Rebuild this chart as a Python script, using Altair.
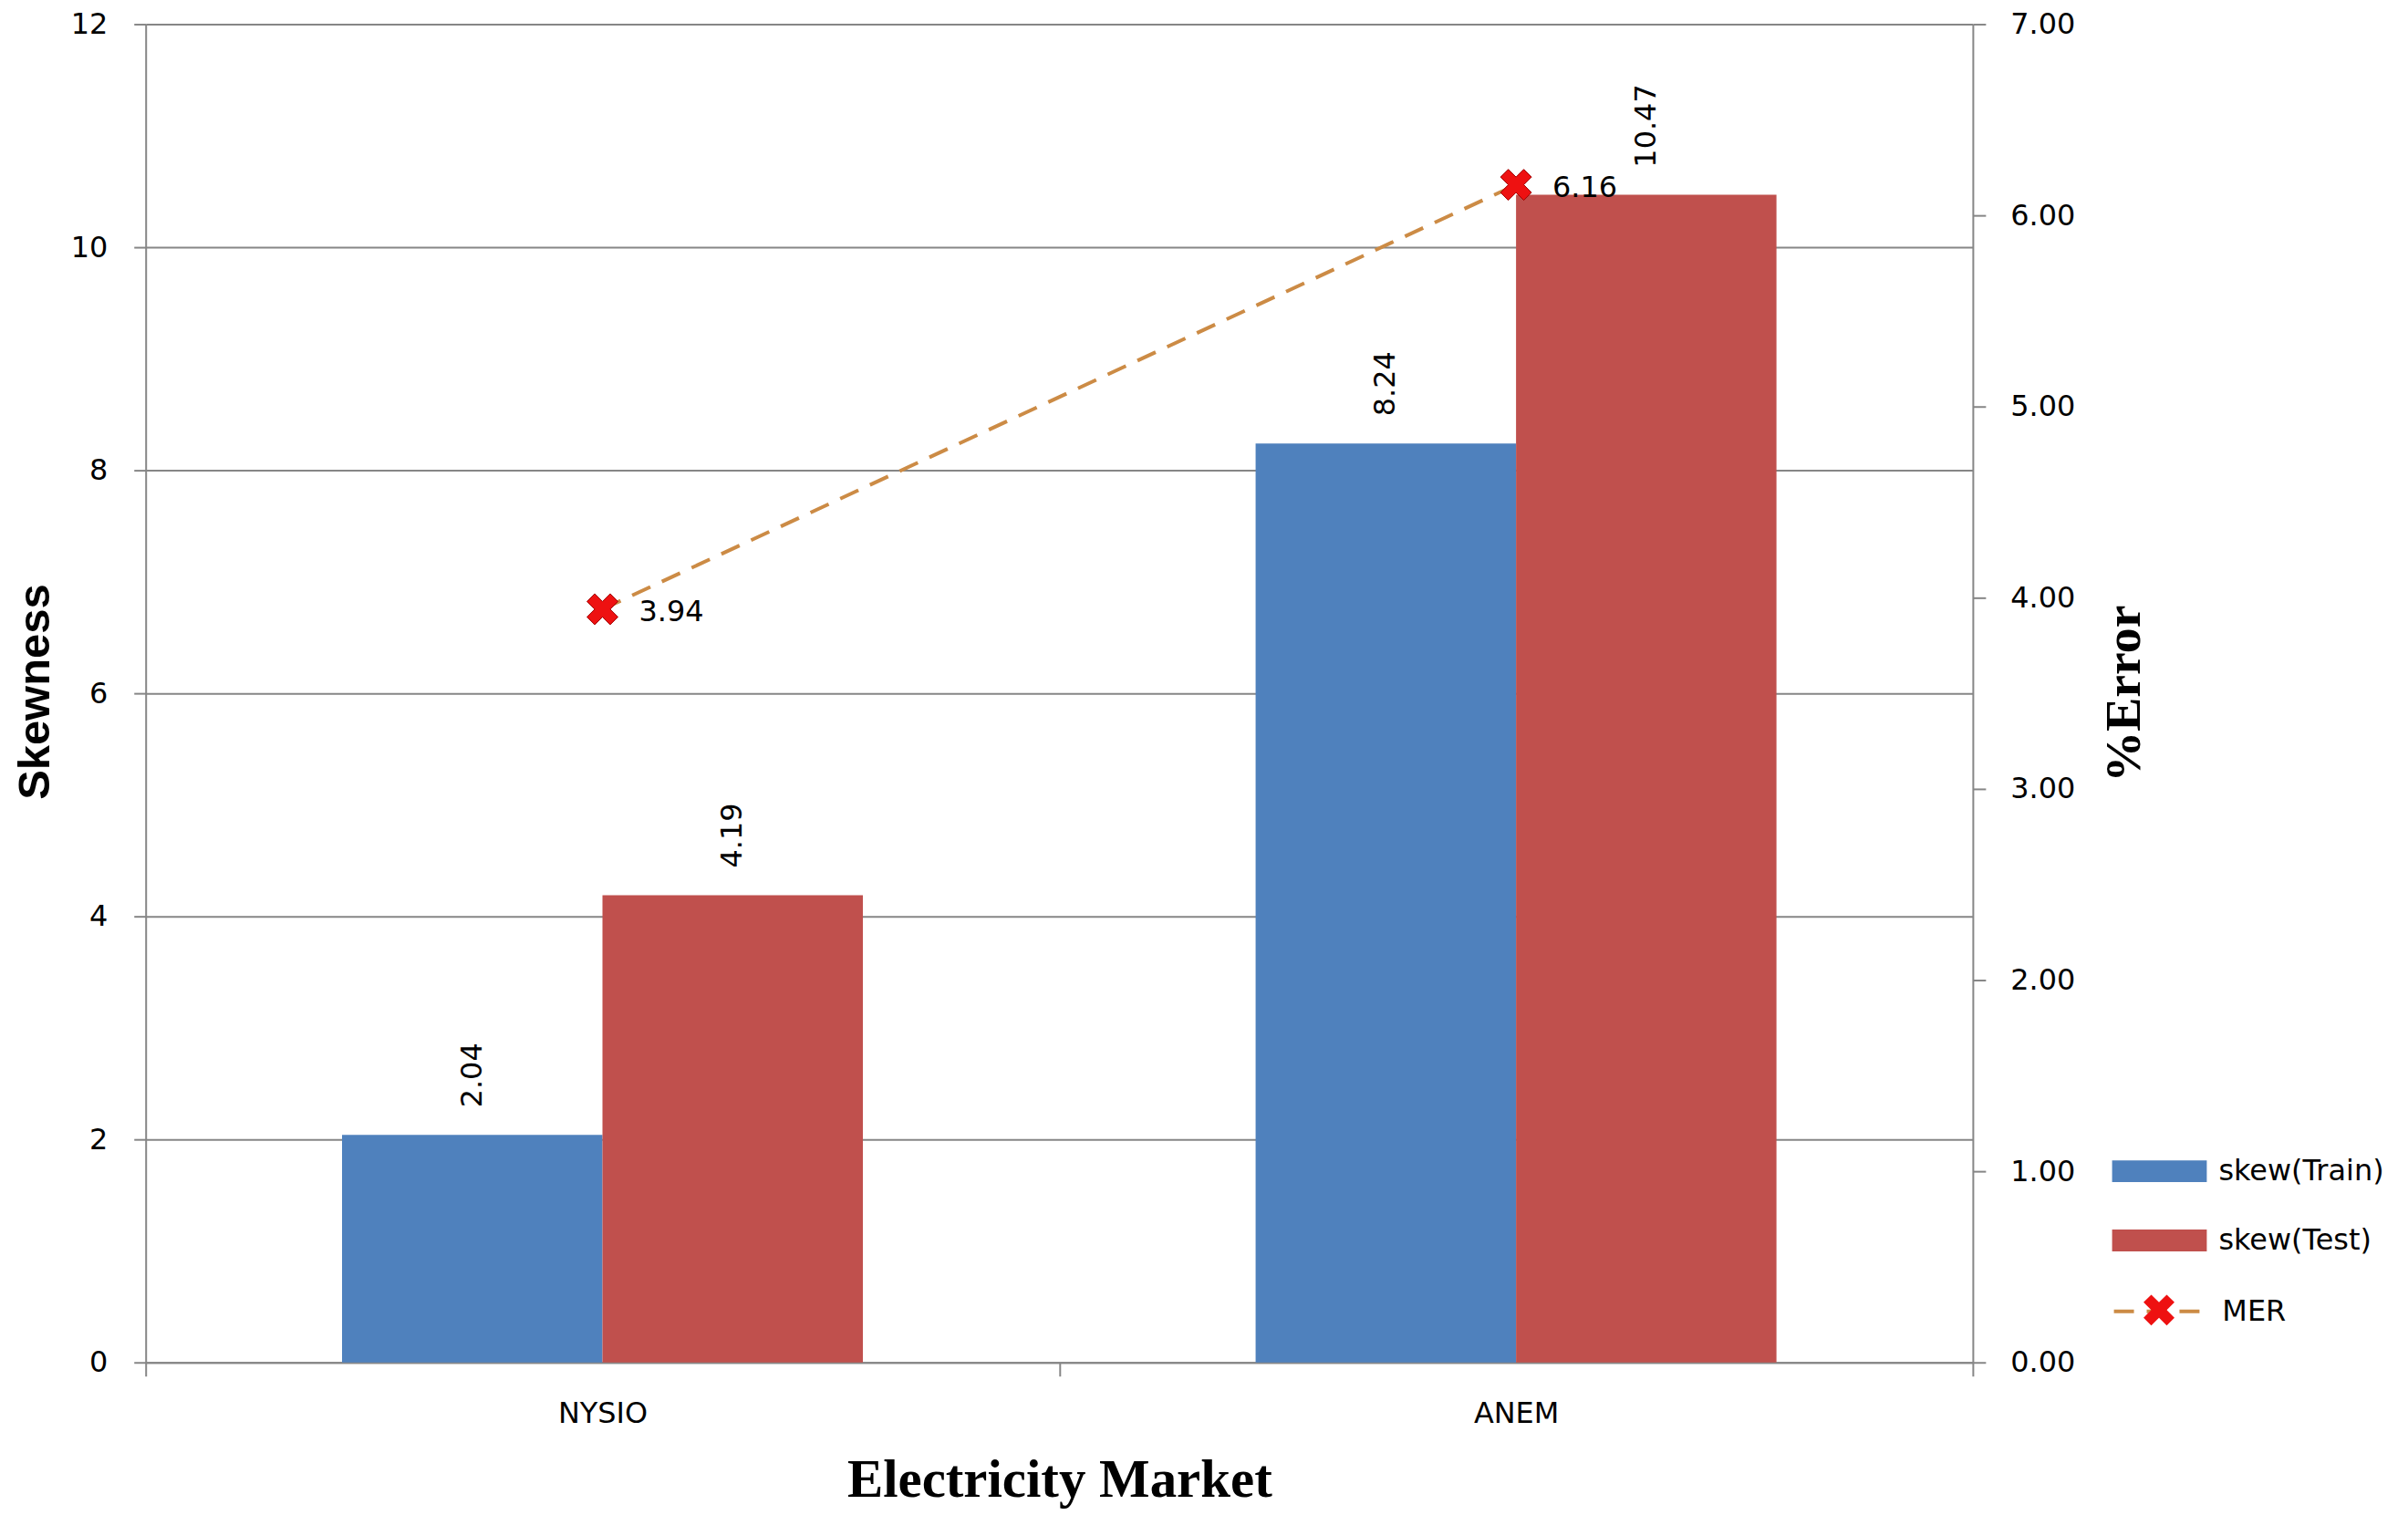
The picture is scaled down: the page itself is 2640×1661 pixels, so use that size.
import altair as alt
import pandas as pd

# ---- data ----
markets = ["NYSIO", "ANEM"]
series_names = ["skew(Train)", "skew(Test)"]
skew_train = [2.04, 8.24]
skew_test = [4.19, 10.47]
mer_values = [3.94, 6.16]
mer_name = "MER"
marker_key_name = "MER marker"
left_ticks = [0, 2, 4, 6, 8, 10, 12]
right_ticks = [0, 1, 2, 3, 4, 5, 6, 7]
bar_colors = ["#4F81BD", "#C0504D"]
line_color = "#CC8B45"
marker_fill = "#EE1111"
marker_stroke = "#A00000"

W, H = 2007, 1470
GRAY = "#868686"
SANS = "DejaVu Sans"
SERIF = "Liberation Serif"

X_PATH = "M-1,-0.5L-0.5,-1L0,-0.5L0.5,-1L1,-0.5L0.5,0L1,0.5L0.5,1L0,0.5L-0.5,1L-1,0.5L-0.5,0Z"
RECT_PATH = "M-1,-0.23L1,-0.23L1,0.23L-1,0.23Z"

bars_df = pd.DataFrame({
    "market": markets * 2,
    "series": [series_names[0]] * len(markets) + [series_names[1]] * len(markets),
    "value": skew_train + skew_test,
})
mer_df = pd.DataFrame({
    "market": markets,
    "mer": mer_values,
    "line_key": [mer_name] * len(markets),
    "marker_key": [marker_key_name] * len(markets),
})

x_enc = alt.X(
    "market:N", sort=markets,
    scale=alt.Scale(paddingInner=0, paddingOuter=0),
    axis=alt.Axis(
        tickBand="extent", labelAngle=0, tickSize=15, labelPadding=26,
        title="Electricity Market", titleFont=SERIF, titleFontWeight="bold",
        titleFontSize=59, titleColor="#000000", titleX=W / 2, titleY=147,
        titleBaseline="alphabetic", titleAlign="center",
    ),
)
xoff_enc = alt.XOffset("series:N", sort=series_names,
                       scale=alt.Scale(paddingInner=0, paddingOuter=0.754))
y_left = alt.Y(
    "value:Q",
    scale=alt.Scale(domain=[0, 12], nice=False),
    axis=alt.Axis(
        values=left_ticks, format="d", grid=True, tickSize=13, labelPadding=29,
        title="Skewness", titleFont="Liberation Sans", titleFontWeight="bold",
        titleFontSize=49, titleColor="#000000", titleAngle=270,
        titleX=-106, titleY=H / 2 - 2, titleBaseline="alphabetic", titleAlign="center",
    ),
)

bars = alt.Chart(bars_df).mark_bar().encode(
    x=x_enc,
    xOffset=xoff_enc,
    y=y_left,
    color=alt.Color(
        "series:N", sort=series_names,
        scale=alt.Scale(domain=series_names, range=bar_colors),
        legend=alt.Legend(
            title=None, orient="none", legendX=2160, legendY=1208,
            symbolType=RECT_PATH, symbolSize=10816, symbolStrokeWidth=0,
            labelFont=SANS, labelFontSize=32, labelColor="#000000",
            labelOffset=13, labelLimit=400, rowPadding=8, padding=0,
        ),
    ),
)

bar_labels = alt.Chart(bars_df).mark_text(
    angle=270, align="left", baseline="middle", dx=30,
    font=SANS, fontSize=32, color="#000000",
).encode(
    x=alt.X("market:N", sort=markets),
    xOffset=alt.XOffset("series:N", sort=series_names),
    y=alt.Y("value:Q"),
    text=alt.Text("value:Q", format=".2f"),
)

left_layer = alt.layer(bars, bar_labels)

y_right = alt.Y(
    "mer:Q",
    scale=alt.Scale(domain=[0, 7], nice=False),
    axis=alt.Axis(
        orient="right", values=right_ticks, format=".2f", grid=False,
        tickSize=14, labelPadding=27,
        title="%Error", titleFont=SERIF, titleFontWeight="bold",
        titleFontSize=56, titleColor="#000000", titleAngle=270,
        titleX=183, titleY=H / 2, titleBaseline="alphabetic", titleAlign="center",
    ),
)

line = alt.Chart(mer_df).mark_line(strokeWidth=4, color=line_color).encode(
    x=alt.X("market:N", sort=markets),
    y=y_right,
    strokeDash=alt.StrokeDash(
        "line_key:N", scale=alt.Scale(domain=[mer_name], range=[[22, 14]]),
        legend=alt.Legend(
            title=None, orient="none", legendX=2160, legendY=1362,
            symbolType="stroke", symbolSize=10000, symbolStrokeColor=line_color,
            symbolStrokeWidth=4, symbolDash=[24, 52],
            labelFont=SANS, labelFontSize=32, labelColor="#000000",
            labelOffset=17, labelLimit=400, padding=0,
        ),
    ),
)

points = alt.Chart(mer_df).mark_point(
    filled=True, size=1156, fill=marker_fill, stroke=marker_stroke,
    strokeWidth=1, opacity=1,
).encode(
    x=alt.X("market:N", sort=markets),
    y=alt.Y("mer:Q"),
    shape=alt.Shape(
        "marker_key:N", scale=alt.Scale(domain=[marker_key_name], range=[X_PATH]),
        legend=alt.Legend(
            title=None, orient="none", legendX=2194, legendY=1395,
            symbolType=X_PATH, symbolSize=1156, symbolFillColor=marker_fill,
            symbolStrokeColor=marker_stroke, symbolStrokeWidth=1,
            labelOpacity=0, labelFontSize=1, padding=0,
        ),
    ),
)

mer_labels = alt.Chart(mer_df).mark_text(
    align="left", baseline="middle", dx=40, dy=3,
    font=SANS, fontSize=32, color="#000000",
).encode(
    x=alt.X("market:N", sort=markets),
    y=alt.Y("mer:Q"),
    text=alt.Text("mer:Q", format=".2f"),
)

right_layer = alt.layer(line, points, mer_labels)

chart = alt.layer(left_layer, right_layer).resolve_scale(
    y="independent"
).properties(
    width=W, height=H,
    autosize=alt.AutoSizeParams(type="none"),
    padding={"left": 152, "top": 17, "right": 470, "bottom": 160},
    background="#FFFFFF",
).configure_view(
    stroke=None,
).configure_axis(
    gridColor=GRAY, gridWidth=2, domainColor=GRAY, domainWidth=2,
    tickColor=GRAY, tickWidth=2, labelFont=SANS, labelFontSize=32,
    labelColor="#000000",
)

chart.save("out.html", embed_options={"renderer": "svg", "actions": False})
